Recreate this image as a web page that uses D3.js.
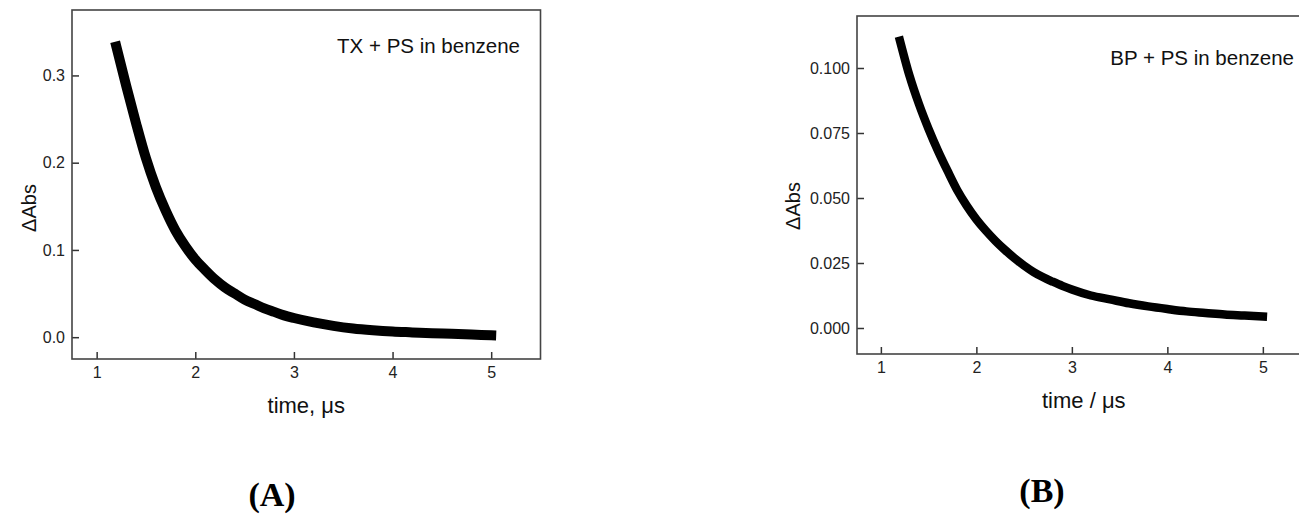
<!DOCTYPE html>
<html>
<head>
<meta charset="utf-8">
<script src="https://cdn.jsdelivr.net/npm/d3@7"></script>
<style>
  body { margin: 0; background: #fff; }
  svg { display: block; }
  .tick text { font-family: "Liberation Sans", Arial, sans-serif; font-size: 16px; fill: #222; }
  .tick line { stroke: #333; stroke-width: 1.5; }
</style>
</head>
<body>
<div id="chart"></div>
<script>
  // panel A: TX + PS in benzene
  const timeA = [1.2, 1.3, 1.4, 1.5, 1.6, 1.7, 1.8, 1.9, 2.0, 2.1, 2.2, 2.3, 2.4, 2.5, 2.6, 2.7, 2.8, 2.9, 3.0,
    3.2, 3.4, 3.6, 3.8, 4.0, 4.2, 4.4, 4.6, 4.8, 5.0];
  const absA = [0.333, 0.288, 0.245, 0.205, 0.172, 0.145, 0.122, 0.104, 0.089, 0.077, 0.066, 0.057, 0.050, 0.043,
    0.038, 0.033, 0.029, 0.025, 0.022, 0.017, 0.013, 0.010, 0.008, 0.0065, 0.0055, 0.0045, 0.0038, 0.003, 0.0022];

  // panel B: BP + PS in benzene
  const timeB = [1.2, 1.3, 1.4, 1.5, 1.6, 1.7, 1.8, 1.9, 2.0, 2.1, 2.2, 2.3, 2.4, 2.5, 2.6, 2.7, 2.8, 2.9, 3.0,
    3.2, 3.4, 3.6, 3.8, 4.0, 4.2, 4.4, 4.6, 4.8, 5.0];
  const absB = [0.1105, 0.0970, 0.0860, 0.0765, 0.0680, 0.0603, 0.0530, 0.0470, 0.0418, 0.0374, 0.0335, 0.0300,
    0.0268, 0.0240, 0.0215, 0.0195, 0.0178, 0.0162, 0.0148, 0.0125, 0.0110, 0.0095, 0.0083, 0.0073, 0.0064,
    0.0058, 0.0052, 0.0048, 0.0044];

  const timeTicks = [1, 2, 3, 4, 5];
  const absTicksA = [0, 0.1, 0.2, 0.3];
  const absTicksB = [0, 0.025, 0.05, 0.075, 0.1];

  const svg = d3.select("#chart").append("svg")
    .attr("width", 1299)
    .attr("height", 516);

  function drawPanel(opt) {
    const x = d3.scaleLinear().domain([0.75, 5.5]).range([opt.left, opt.right]);
    const y = d3.scaleLinear().domain(opt.yDomain).range([opt.bottom, opt.top]);
    const g = svg.append("g");
    const midX = (opt.left + opt.right) / 2;

    g.append("g")
      .attr("transform", `translate(0,${opt.bottom})`)
      .call(d3.axisBottom(x).tickValues(timeTicks).tickSize(-7).tickPadding(8).tickFormat(d3.format("d")))
      .call(s => s.select(".domain").remove());

    g.append("g")
      .attr("transform", `translate(${opt.left},0)`)
      .call(d3.axisLeft(y).tickValues(opt.yTicks).tickSize(-7).tickPadding(7).tickFormat(d3.format(opt.fmt)))
      .call(s => s.select(".domain").remove());

    // frame
    g.append("rect")
      .attr("x", opt.left).attr("y", opt.top)
      .attr("width", opt.right - opt.left).attr("height", opt.bottom - opt.top)
      .attr("fill", "none").attr("stroke", "#444").attr("stroke-width", 1.6);

    const data = opt.t.map((t, i) => [t, opt.v[i]]);
    g.append("path")
      .datum(data)
      .attr("fill", "none")
      .attr("stroke", "#000")
      .attr("stroke-width", opt.thick)
      .attr("stroke-linecap", "square")
      .attr("stroke-linejoin", "round")
      .attr("d", d3.line().x(d => x(d[0])).y(d => y(d[1])).curve(d3.curveMonotoneX));

    g.append("text")
      .attr("x", opt.titleX).attr("y", opt.titleY)
      .attr("text-anchor", "end")
      .attr("font-family", "Liberation Sans, Arial, sans-serif")
      .attr("font-size", 20.5)
      .attr("fill", "#111")
      .text(opt.title);

    g.append("text")
      .attr("x", midX).attr("y", opt.bottom + 54)
      .attr("text-anchor", "middle")
      .attr("font-family", "Liberation Sans, Arial, sans-serif")
      .attr("font-size", 22)
      .attr("fill", "#111")
      .text(opt.xLabel);

    g.append("text")
      .attr("transform", `translate(${opt.yLabelX},${opt.yLabelY}) rotate(-90)`)
      .attr("text-anchor", "middle")
      .attr("font-family", "Liberation Sans, Arial, sans-serif")
      .attr("font-size", 20)
      .attr("fill", "#111")
      .text("ΔAbs");

    g.append("text")
      .attr("x", opt.tagX).attr("y", opt.tagY)
      .attr("text-anchor", "middle")
      .attr("font-family", "Liberation Serif, Times New Roman, serif")
      .attr("font-weight", "bold")
      .attr("font-size", 34)
      .attr("fill", "#000")
      .text(opt.tag);
  }

  drawPanel({
    left: 72, right: 540.5, top: 10, bottom: 359,
    yDomain: [-0.025, 0.375], yTicks: absTicksA, fmt: ".1f",
    t: timeA, v: absA, thick: 10,
    title: "TX + PS in benzene", titleX: 520, titleY: 53,
    xLabel: "time, μs",
    yLabelX: 36, yLabelY: 208,
    tag: "(A)", tagX: 272, tagY: 506
  });

  drawPanel({
    left: 857, right: 1310.6, top: 16, bottom: 354,
    yDomain: [-0.01, 0.12], yTicks: absTicksB, fmt: ".3f",
    t: timeB, v: absB, thick: 8.5,
    title: "BP + PS in benzene", titleX: 1294, titleY: 65,
    xLabel: "time / μs",
    yLabelX: 800, yLabelY: 206,
    tag: "(B)", tagX: 1042, tagY: 502
  });
</script>
</body>
</html>
